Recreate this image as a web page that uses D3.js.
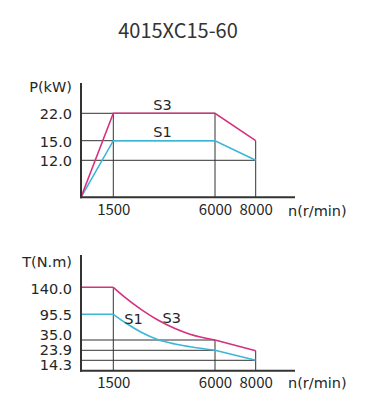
<!DOCTYPE html>
<html><head><meta charset="utf-8">
<script src="https://cdn.jsdelivr.net/npm/d3@7"></script>
<style>
html,body{margin:0;padding:0;background:#fff;}
svg{display:block;}
</style></head>
<body>
<svg id="c" width="365" height="413"></svg>
<script>
// ---------- data ----------
const title = "4015XC15-60";
const speedTicks = [1500, 6000, 8000];
const powerTicks = [12.0, 15.0, 22.0];
const torqueTicks = [14.3, 23.9, 35.0, 95.5, 140.0];

const powerS3 = [[0, 0], [1500, 22.0], [6000, 22.0], [8000, 15.0]];
const powerS1 = [[0, 0], [1500, 15.0], [6000, 15.0], [8000, 12.0]];

const torqueS3Flat = [[0, 140.0], [1500, 140.0]];
const torqueS3Curve = [[1500, 140.0], [2018, 123.5], [2757, 102.9], [3491, 81.6], [4230, 62.1], [4894, 48.7], [6000, 35.0]];
const torqueS3Tail = [[6000, 35.0], [8000, 23.5]];

const torqueS1Flat = [[0, 95.5], [1500, 95.5]];
const torqueS1Curve = [[1500, 95.5], [2018, 76.2], [2757, 52.7], [3491, 35.5], [4230, 30.7], [4894, 27.8], [6000, 23.9]];
const torqueS1Tail = [[6000, 23.9], [8000, 14.3]];

// reference-line extents (rpm reached by each horizontal line / value reached by each vertical line)
const powerHLines = [[12.0, 8000], [15.0, 6000], [22.0, 6000]];
const powerVLines = [[1500, 22.0], [6000, 22.0], [8000, 15.0]];
const torqueHLines = [[14.3, 8000], [23.9, 6000], [35.0, 6000]];
const torqueVLines = [[1500, 140.0], [6000, 35.0], [8000, 23.5]];

// ---------- style ----------
const C_S3 = "#d6307f", C_S1 = "#3cb6d6", C_AX = "#333", C_TXT = "#262626";
const FONT_LAT = "'DejaVu Sans', sans-serif";
const FONT_CJK = "'Noto Sans CJK SC', 'Noto Sans', sans-serif";
const FS = 14.5;

const svg = d3.select("#c");

svg.append("text").attr("x", 178).attr("y", 29)
  .attr("text-anchor", "middle").attr("dominant-baseline", "central")
  .attr("font-family", FONT_CJK).attr("font-size", 20).attr("fill", "#333")
  .text(title);

const x = d3.scaleLinear().domain([0, 1500, 6000, 8000]).range([81, 113.3, 215, 255.7]);

function panel(cfg) {
  const g = svg.append("g");
  const y = cfg.y;
  const grid = g.append("g").attr("stroke", C_AX).attr("stroke-width", 1).attr("fill", "none");
  cfg.hLines.forEach(([v, r]) => grid.append("line")
    .attr("x1", x(0)).attr("x2", x(r)).attr("y1", y(v)).attr("y2", y(v)));
  cfg.vLines.forEach(([r, v]) => grid.append("line")
    .attr("x1", x(r)).attr("x2", x(r)).attr("y1", y(0)).attr("y2", y(v)));

  const lin = d3.line().x(d => x(d[0])).y(d => y(d[1]));
  const crv = d3.line().x(d => x(d[0])).y(d => y(d[1])).curve(d3.curveMonotoneX);
  cfg.series.forEach(s => {
    s.parts.forEach(p => g.append("path").attr("d", (p.curve ? crv : lin)(p.data))
      .attr("fill", "none").attr("stroke", s.color).attr("stroke-width", 1.6)
      .attr("stroke-linejoin", "miter"));
  });

  // axes
  const ya = g.append("g").attr("transform", `translate(${x(0)},0)`)
    .call(d3.axisLeft(y).tickValues(cfg.ticks).tickSize(0).tickPadding(9).tickFormat(d3.format(".1f")));
  ya.select(".domain").remove();
  ya.selectAll("text").attr("font-family", FONT_LAT).attr("font-size", FS).attr("fill", C_TXT)
    .attr("dy", (d, i) => (cfg.labelShift[i] + 4.8) + "px");

  const xa = g.append("g").attr("transform", `translate(0,${y(0)})`)
    .call(d3.axisBottom(x).tickValues(speedTicks).tickSize(0).tickPadding(cfg.xPad).tickFormat(d3.format("d")));
  xa.select(".domain").remove();
  xa.selectAll("text").attr("font-family", FONT_CJK).attr("font-size", 15).attr("fill", C_TXT);

  g.append("line").attr("x1", x(0)).attr("x2", x(0)).attr("y1", cfg.top).attr("y2", y(0) + 1)
    .attr("stroke", C_AX).attr("stroke-width", 2);
  g.append("line").attr("x1", x(0) - 1).attr("x2", 295).attr("y1", y(0)).attr("y2", y(0))
    .attr("stroke", C_AX).attr("stroke-width", 2);

  g.append("text").attr("x", 72).attr("y", cfg.titleY).attr("text-anchor", "end")
    .attr("dominant-baseline", "central").attr("font-family", FONT_LAT).attr("font-size", FS)
    .attr("fill", C_TXT).text(cfg.yTitle);
  g.append("text").attr("x", 288).attr("y", y(0) + cfg.xTitleOff)
    .attr("dominant-baseline", "central").attr("font-family", FONT_LAT).attr("font-size", FS)
    .attr("fill", C_TXT).text("n(r/min)");

  cfg.labels.forEach(l => g.append("text").attr("x", x(l[1])).attr("y", y(l[2]))
    .attr("text-anchor", "middle").attr("dominant-baseline", "central")
    .attr("font-family", FONT_LAT).attr("font-size", FS).attr("fill", C_TXT).text(l[0]));
}

panel({
  y: d3.scaleLinear().domain([0, 12, 15, 22]).range([197.3, 160.3, 140.7, 113.3]),
  ticks: powerTicks, labelShift: [0.5, 0.5, 0],
  hLines: powerHLines, vLines: powerVLines,
  series: [
    {color: C_S1, parts: [{data: powerS1}]},
    {color: C_S3, parts: [{data: powerS3}]}
  ],
  top: 83, xPad: 7.5, titleY: 86.7, yTitle: "P(kW)", xTitleOff: 13.4,
  labels: [["S3", 3680, 24.1], ["S1", 3680, 17.3]]
});

panel({
  y: d3.scaleLinear().domain([0, 14.3, 23.9, 35.0, 95.5, 140]).range([370.7, 360.3, 350.3, 340, 314.3, 287.3]),
  ticks: torqueTicks, labelShift: [4.4, -0.3, -5, 0.7, 1],
  hLines: torqueHLines, vLines: torqueVLines,
  series: [
    {color: C_S1, parts: [{data: torqueS1Flat}, {data: torqueS1Curve, curve: true}, {data: torqueS1Tail}]},
    {color: C_S3, parts: [{data: torqueS3Flat}, {data: torqueS3Curve, curve: true}, {data: torqueS3Tail}]}
  ],
  top: 255, xPad: 7, titleY: 261.7, yTitle: "T(N.m)", xTitleOff: 12.6,
  labels: [["S1", 2394, 83.7], ["S3", 4084, 86.1]]
});
</script>
</body></html>
